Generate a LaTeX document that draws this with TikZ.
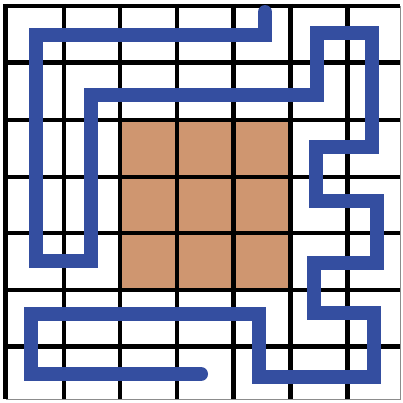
\documentclass[tikz,border=0pt]{standalone}
\definecolor{cellbrown}{RGB}{207,150,112}
\definecolor{pathblue}{RGB}{52,78,160}
\tikzset{
  gridline/.style={line width=4.5pt, black},
  edgeline/.style={line width=1pt, black!45},
  walk/.style={line width=14pt, pathblue, line cap=round, line join=miter}
}
\begin{document}
\begin{tikzpicture}[x=1pt,y=-1pt]
\useasboundingbox (0,0) rectangle (403,402);
\fill[white] (0,0) rectangle (403,402);
% brown centre block
\fill[cellbrown] (120,120) rectangle (290.5,290);
% thin right and bottom edges
\draw[edgeline] (400,6) -- (400,399) -- (5.5,399);
% vertical grid lines
\foreach \x in {5.5,64,120,177,233.5,290.5,347.5}
  \draw[gridline] (\x,3.75) -- (\x,399);
% horizontal grid lines
\foreach \y in {6,62.5,120,177,233,290,346.5}
  \draw[gridline] (3.25,\y) -- (400,\y);
% blue path
\draw[walk] (265,12) -- (265,35) -- (36,35) -- (36,261) -- (91,261)
  -- (91,95) -- (317,95) -- (317,33) -- (372,33) -- (372,147)
  -- (316,147) -- (316,201) -- (377,201) -- (377,263) -- (314,263)
  -- (314,313) -- (374,313) -- (374,377) -- (259,377) -- (259,313.5)
  -- (31,313.5) -- (31,374) -- (201,374);
\end{tikzpicture}
\end{document}
